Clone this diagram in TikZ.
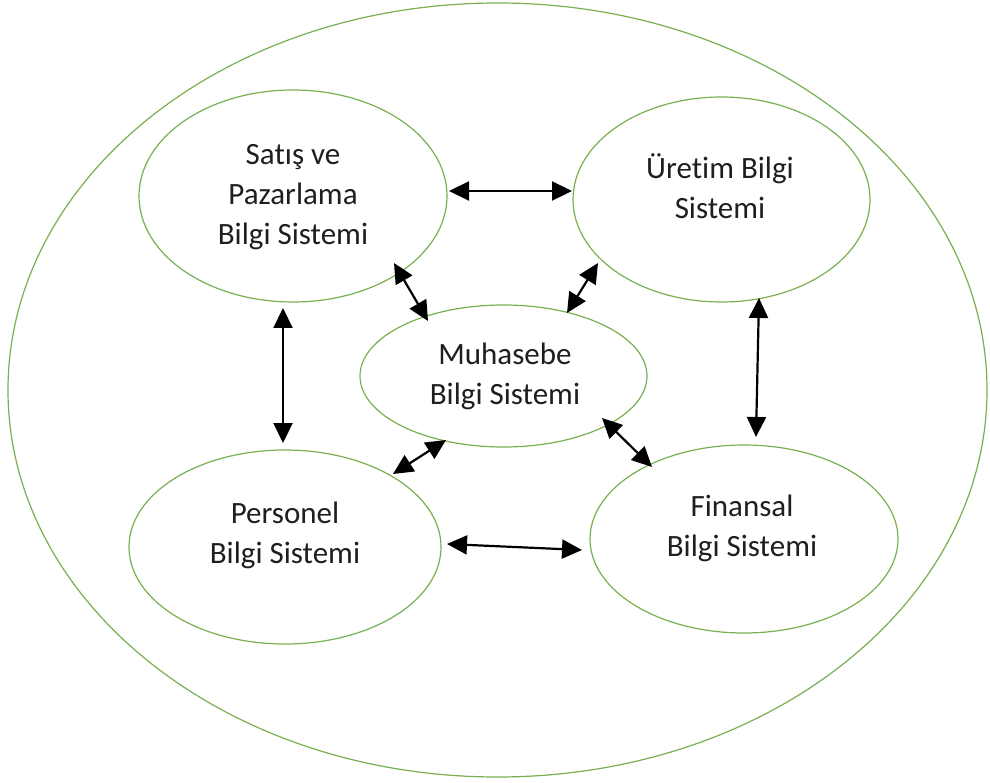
\documentclass[tikz,border=0pt]{standalone}
\usepackage{fontspec}
\setmainfont{Carlito}[Ligatures=NoCommon]
\usetikzlibrary{shapes.geometric,arrows.meta}
\definecolor{ringgreen}{RGB}{120,175,80}
\definecolor{txt}{RGB}{30,30,35}
\tikzset{
  sysring/.style={ellipse, draw=ringgreen, line width=1.2pt, inner sep=0pt},
  systext/.style={align=center, text=txt, font=\fontsize{31}{40}\selectfont, inner sep=0pt},
  link/.style={line width=2.2pt, black, {Triangle[length=20pt,width=19pt]}-{Triangle[length=20pt,width=19pt]}}
}
\begin{document}
\begin{tikzpicture}[x=1pt,y=-1pt]
\useasboundingbox (0,0) rectangle (990,783);
% outer
\node[sysring, minimum width=979pt, minimum height=774pt] (outer) at (497.5,390) {};
% systems
\node[sysring, minimum width=308pt, minimum height=212pt] (satis) at (293,196) {};
\node[sysring, minimum width=297pt, minimum height=205pt] (uretim) at (721.5,199.5) {};
\node[sysring, minimum width=287pt, minimum height=142pt] (muh) at (503.5,376) {};
\node[sysring, minimum width=312pt, minimum height=194pt] (pers) at (285,547) {};
\node[sysring, minimum width=308pt, minimum height=188pt] (fin) at (744,539) {};
% texts
\node[systext] (tsatis) at (293,197) {Satış ve\\Pazarlama\\Bilgi Sistemi};
\node[systext] (turetim) at (720,186) {Üretim Bilgi\\Sistemi};
\node[systext] (tmuh) at (505,376) {Muhasebe\\Bilgi Sistemi};
\node[systext] (tpers) at (285,535) {Personel\\Bilgi Sistemi};
\node[systext] (tfin) at (742,528) {Finansal\\Bilgi Sistemi};
% arrow ends
\coordinate (su1) at (449,191);
\coordinate (su2) at (572,191);
\coordinate (sp1) at (283,308);
\coordinate (sp2) at (283,443);
\coordinate (uf1) at (759,298);
\coordinate (uf2) at (756,437);
\coordinate (pf1) at (447,544);
\coordinate (pf2) at (582,550);
\coordinate (sm1) at (394,263);
\coordinate (sm2) at (428,321);
\coordinate (um1) at (598,263);
\coordinate (um2) at (567,313);
\coordinate (mp1) at (446,440);
\coordinate (mp2) at (393,474);
\coordinate (mf1) at (602,418);
\coordinate (mf2) at (652,467);
\draw[link] (su1) -- (su2);
\draw[link] (sp1) -- (sp2);
\draw[link] (uf1) -- (uf2);
\draw[link] (pf1) -- (pf2);
\draw[link] (sm1) -- (sm2);
\draw[link] (um1) -- (um2);
\draw[link] (mp1) -- (mp2);
\draw[link] (mf1) -- (mf2);
\end{tikzpicture}
\end{document}
